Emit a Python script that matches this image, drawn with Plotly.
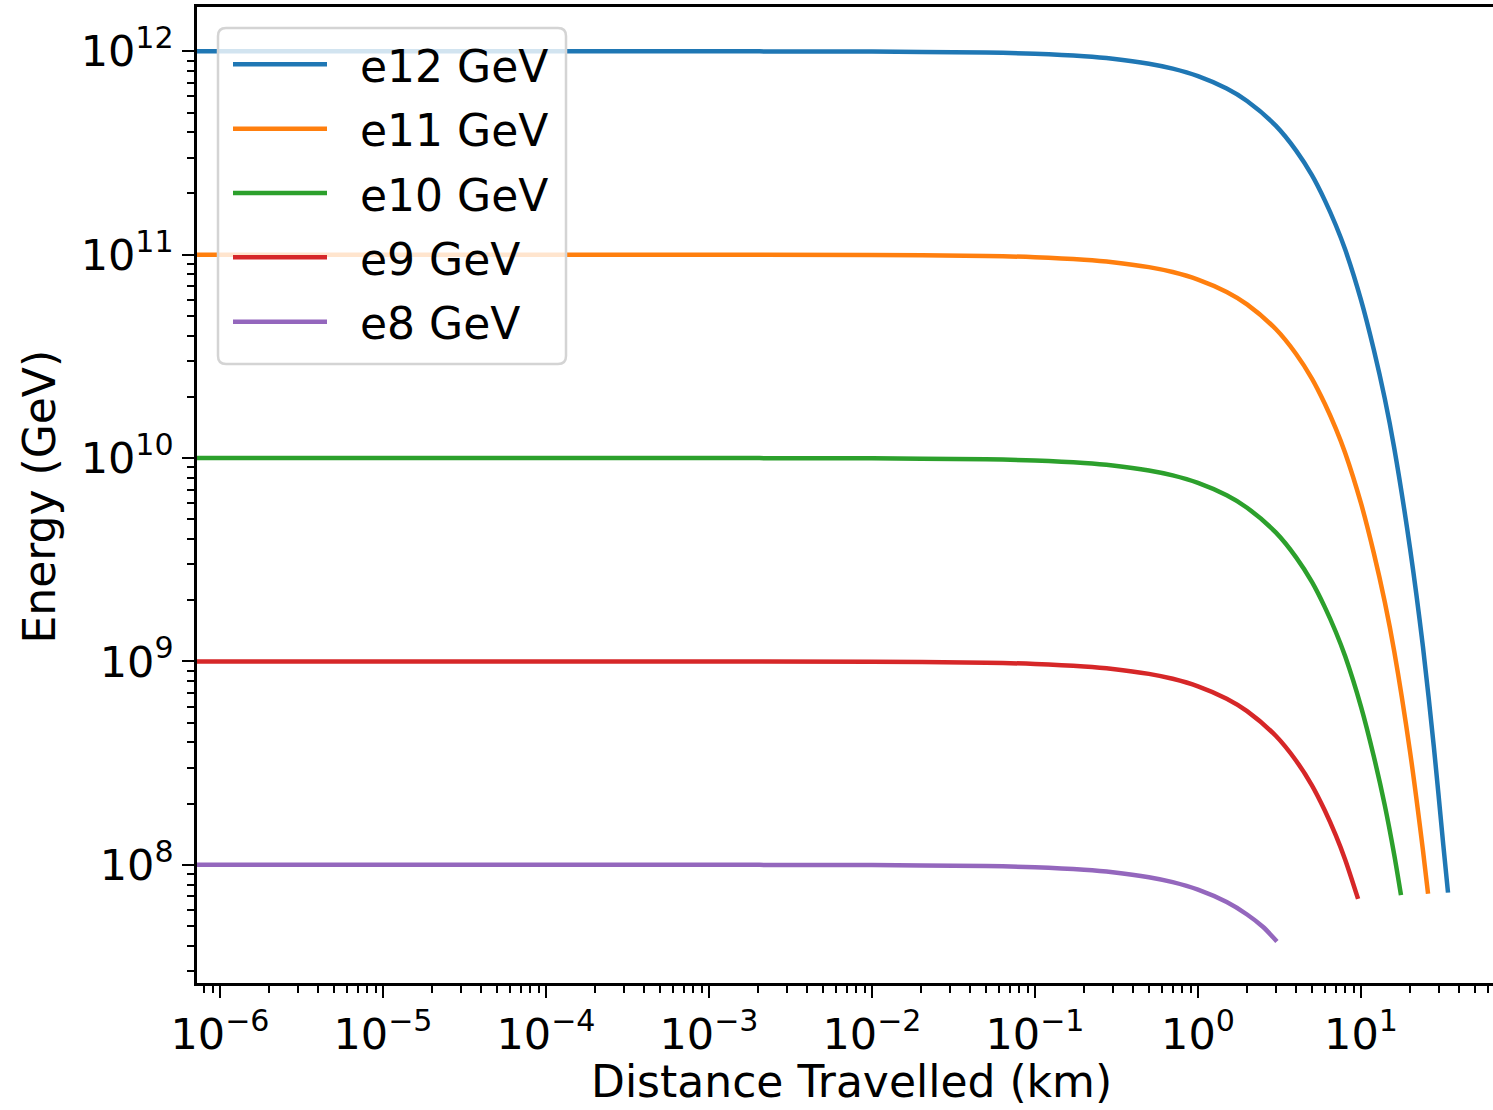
import plotly.graph_objects as go

# Distance travelled (km) and energy (GeV)
dist_e12 = [5e-7, 1e-3, 0.01, 0.05, 0.1, 0.2, 0.3, 0.5, 0.7, 1, 1.5, 2, 3, 4, 5, 6, 7, 8, 10, 12, 14, 16, 20, 24, 28, 32, 34.2]
energy_e12 = [1e12, 1e12, 9.97e11, 9.86e11, 9.72e11, 9.45e11, 9.19e11, 8.69e11, 8.22e11, 7.55e11, 6.56e11, 5.70e11,
              4.31e11, 3.25e11, 2.46e11, 1.85e11, 1.40e11, 1.06e11, 6.0e10, 3.4e10, 1.96e10, 1.12e10, 3.6e9,
              1.18e9, 3.8e8, 1.25e8, 7.3e7]

dist_e11 = [5e-7, 1e-3, 0.01, 0.05, 0.1, 0.2, 0.3, 0.5, 0.7, 1, 1.5, 2, 3, 4, 5, 6, 7, 8, 10, 12, 14, 16, 20, 24, 25.8]
energy_e11 = [1e11, 1e11, 9.97e10, 9.86e10, 9.72e10, 9.45e10, 9.19e10, 8.69e10, 8.22e10, 7.55e10, 6.56e10, 5.70e10,
              4.31e10, 3.25e10, 2.46e10, 1.85e10, 1.40e10, 1.06e10, 6.0e9, 3.4e9, 1.96e9, 1.12e9, 3.6e8,
              1.18e8, 7.2e7]

dist_e10 = [5e-7, 1e-3, 0.01, 0.05, 0.1, 0.2, 0.3, 0.5, 0.7, 1, 1.5, 2, 3, 4, 5, 6, 7, 8, 10, 12, 14, 16, 17.6]
energy_e10 = [1e10, 1e10, 9.97e9, 9.86e9, 9.72e9, 9.45e9, 9.19e9, 8.69e9, 8.22e9, 7.55e9, 6.56e9, 5.70e9,
              4.31e9, 3.25e9, 2.46e9, 1.85e9, 1.40e9, 1.06e9, 6.0e8, 3.4e8, 1.96e8, 1.12e8, 7.1e7]

dist_e9 = [5e-7, 1e-3, 0.01, 0.05, 0.1, 0.2, 0.3, 0.5, 0.7, 1, 1.5, 2, 3, 4, 5, 6, 7, 8, 9.6]
energy_e9 = [1e9, 1e9, 9.97e8, 9.86e8, 9.72e8, 9.45e8, 9.19e8, 8.69e8, 8.22e8, 7.55e8, 6.56e8, 5.70e8,
             4.31e8, 3.25e8, 2.46e8, 1.85e8, 1.40e8, 1.06e8, 6.8e7]

dist_e8 = [5e-7, 1e-3, 0.01, 0.05, 0.1, 0.2, 0.3, 0.5, 0.7, 1, 1.5, 2, 2.5, 3.05]
energy_e8 = [1e8, 1e8, 9.97e7, 9.86e7, 9.72e7, 9.45e7, 9.19e7, 8.69e7, 8.22e7, 7.55e7, 6.56e7, 5.70e7, 4.96e7, 4.2e7]

series_names = ["e12 GeV", "e11 GeV", "e10 GeV", "e9 GeV", "e8 GeV"]
series_x = [dist_e12, dist_e11, dist_e10, dist_e9, dist_e8]
series_y = [energy_e12, energy_e11, energy_e10, energy_e9, energy_e8]
colors = ["#1f77b4", "#ff7f0e", "#2ca02c", "#d62728", "#9467bd"]

x_tick_vals = [1e-6, 1e-5, 1e-4, 1e-3, 1e-2, 1e-1, 1e0, 1e1]
x_tick_text = ["10<sup>\u22126</sup>", "10<sup>\u22125</sup>", "10<sup>\u22124</sup>", "10<sup>\u22123</sup>",
               "10<sup>\u22122</sup>", "10<sup>\u22121</sup>", "10<sup>0</sup>", "10<sup>1</sup>"]
y_tick_vals = [1e8, 1e9, 1e10, 1e11, 1e12]
y_tick_text = ["10<sup>8</sup>", "10<sup>9</sup>", "10<sup>10</sup>", "10<sup>11</sup>", "10<sup>12</sup>"]

FONT = "DejaVu Sans"
W, H = 1493, 1110
L, R, T, B = 197, 0, 7, 127
pw, ph = W - L - R, H - T - B

def px(x):
    return (x - L) / pw

def py(y):
    return (H - B - y) / ph

fig = go.Figure()
for name, xs, ys, c in zip(series_names, series_x, series_y, colors):
    fig.add_trace(go.Scatter(x=xs, y=ys, mode="lines", name=name,
                             line=dict(color=c, width=4.5, shape="spline", smoothing=0.8),
                             showlegend=False))

# custom legend (matplotlib style)
x0, x1, y0, y1 = px(218), px(566), py(364), py(28)
rx, ry = 8 / pw, 8 / ph
path = (f"M {x0+rx},{y0} L {x1-rx},{y0} Q {x1},{y0} {x1},{y0+ry} L {x1},{y1-ry} Q {x1},{y1} {x1-rx},{y1} "
        f"L {x0+rx},{y1} Q {x0},{y1} {x0},{y1-ry} L {x0},{y0+ry} Q {x0},{y0} {x0+rx},{y0} Z")
shapes = [dict(type="path", path=path, xref="paper", yref="paper", layer="above",
               fillcolor="rgba(255,255,255,0.8)", line=dict(color="#d4d4d4", width=2.5))]
annotations = []
row_y = [64.3, 128.7, 193.0, 257.3, 321.7]
for name, c, ry_ in zip(series_names, colors, row_y):
    shapes.append(dict(type="line", xref="paper", yref="paper", layer="above",
                       x0=px(233), x1=px(327), y0=py(ry_), y1=py(ry_),
                       line=dict(color=c, width=4.5)))
    annotations.append(dict(text=name, xref="paper", yref="paper", x=px(358), y=py(ry_ + 2),
                            xanchor="left", yanchor="middle", showarrow=False,
                            font=dict(family=FONT, size=44, color="black")))

# axis titles
annotations.append(dict(text="Distance Travelled (km)", xref="paper", yref="paper",
                        x=px(851.5), y=py(1081), xanchor="center", yanchor="middle", showarrow=False,
                        font=dict(family=FONT, size=44, color="black")))
annotations.append(dict(text="Energy (GeV)", xref="paper", yref="paper", textangle=-90,
                        x=px(39), y=py(496.5), xanchor="center", yanchor="middle", showarrow=False,
                        font=dict(family=FONT, size=44, color="black")))

axis_common = dict(type="log", showgrid=False, zeroline=False, showline=True, linecolor="black", linewidth=2.5,
                   ticks="outside", ticklen=12, tickwidth=2, tickcolor="black",
                   tickmode="array",
                   tickfont=dict(family=FONT, size=43, color="black"),
                   minor=dict(ticks="outside", ticklen=7, tickwidth=1.5, tickcolor="black",
                              dtick="D1", showgrid=False))

fig.update_layout(
    width=W, height=H,
    margin=dict(l=L, r=R, t=T, b=B, autoexpand=False),
    paper_bgcolor="white", plot_bgcolor="white",
    font=dict(family=FONT, size=43, color="black"),
    xaxis=dict(axis_common, range=[-6.141, 1.81], mirror=True,
               tickvals=x_tick_vals, ticktext=x_tick_text),
    yaxis=dict(axis_common, range=[7.419, 12.218], mirror=False,
               tickvals=y_tick_vals, ticktext=y_tick_text),
    shapes=shapes, annotations=annotations,
)

fig.write_html("out.html")
